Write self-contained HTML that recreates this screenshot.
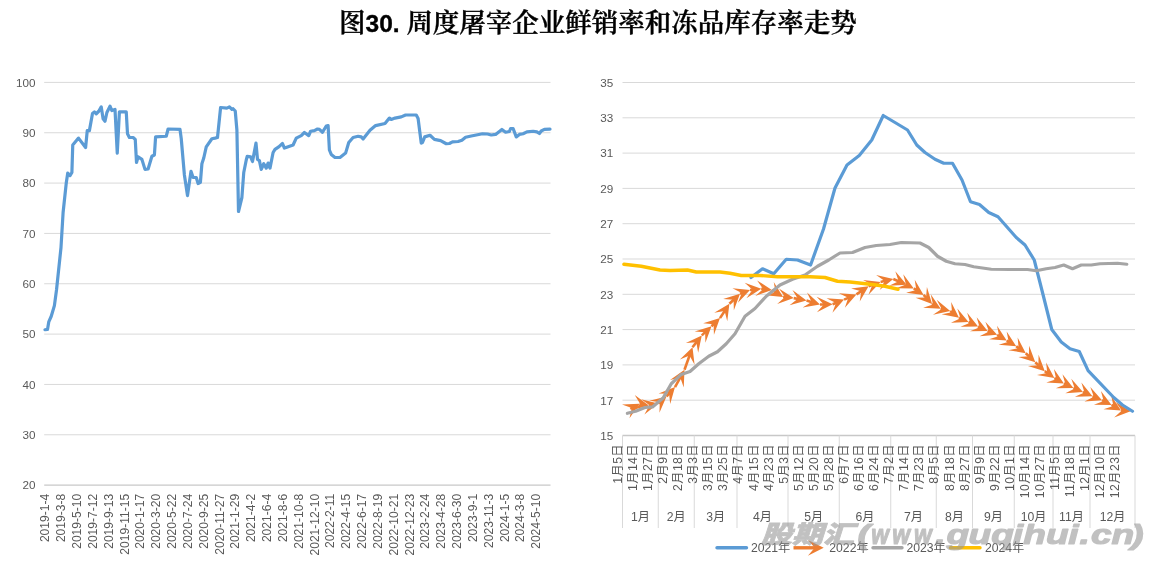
<!DOCTYPE html>
<html lang="zh-CN"><head><meta charset="utf-8"><title>图30. 周度屠宰企业鲜销率和冻品库存率走势</title>
<style>
html,body{margin:0;padding:0;background:#fff;}
body{width:1162px;height:567px;overflow:hidden;position:relative;font-family:"Liberation Sans","Noto Sans CJK SC",sans-serif;}
svg{position:absolute;left:0;top:0;display:block}
.ax{font-family:"Liberation Sans","Noto Sans CJK SC",sans-serif;font-size:11.7px;fill:#595959}
.cj{font-family:"Liberation Sans","Noto Sans CJK SC",sans-serif;font-size:12.2px;fill:#595959}
.dy{letter-spacing:0.45px}
.dt{font-family:"Liberation Sans","Noto Sans CJK SC",sans-serif;font-size:12.1px;fill:#595959}
.title{font-family:"Liberation Sans","Noto Serif CJK SC",serif;font-weight:600;fill:#000;stroke:#000;stroke-width:.35px}
.wm{font-family:"Liberation Sans","Noto Sans CJK SC",sans-serif;font-weight:900;font-style:italic;fill:#9b9b9b;fill-opacity:.62}
</style></head><body>
<svg width="1162" height="567" viewBox="0 0 1162 567">
<rect width="1162" height="567" fill="#fff"/>

<text class="title" x="339" y="31.5" font-size="26.5px"><tspan>图</tspan><tspan font-size="24.5px">30. </tspan><tspan>周度屠宰企业鲜销率和冻品库存率走势</tspan></text>
<line x1="44.2" x2="550.5" y1="82.40" y2="82.40" stroke="#d9d9d9" stroke-width="1"/>
<text class="ax" x="35.6" y="86.70" text-anchor="end">100</text>
<line x1="44.2" x2="550.5" y1="132.74" y2="132.74" stroke="#d9d9d9" stroke-width="1"/>
<text class="ax" x="35.6" y="137.04" text-anchor="end">90</text>
<line x1="44.2" x2="550.5" y1="183.08" y2="183.08" stroke="#d9d9d9" stroke-width="1"/>
<text class="ax" x="35.6" y="187.38" text-anchor="end">80</text>
<line x1="44.2" x2="550.5" y1="233.42" y2="233.42" stroke="#d9d9d9" stroke-width="1"/>
<text class="ax" x="35.6" y="237.72" text-anchor="end">70</text>
<line x1="44.2" x2="550.5" y1="283.76" y2="283.76" stroke="#d9d9d9" stroke-width="1"/>
<text class="ax" x="35.6" y="288.06" text-anchor="end">60</text>
<line x1="44.2" x2="550.5" y1="334.10" y2="334.10" stroke="#d9d9d9" stroke-width="1"/>
<text class="ax" x="35.6" y="338.40" text-anchor="end">50</text>
<line x1="44.2" x2="550.5" y1="384.44" y2="384.44" stroke="#d9d9d9" stroke-width="1"/>
<text class="ax" x="35.6" y="388.74" text-anchor="end">40</text>
<line x1="44.2" x2="550.5" y1="434.78" y2="434.78" stroke="#d9d9d9" stroke-width="1"/>
<text class="ax" x="35.6" y="439.08" text-anchor="end">30</text>
<line x1="44.2" x2="550.5" y1="485.12" y2="485.12" stroke="#c8c8c8" stroke-width="1.4"/>
<text class="ax" x="35.6" y="489.42" text-anchor="end">20</text>
<text class="dt" transform="translate(49.40,493.7) rotate(-90)" text-anchor="end">2019-1-4</text>
<text class="dt" transform="translate(65.23,493.7) rotate(-90)" text-anchor="end">2019-3-8</text>
<text class="dt" transform="translate(81.07,493.7) rotate(-90)" text-anchor="end">2019-5-10</text>
<text class="dt" transform="translate(96.91,493.7) rotate(-90)" text-anchor="end">2019-7-12</text>
<text class="dt" transform="translate(112.74,493.7) rotate(-90)" text-anchor="end">2019-9-13</text>
<text class="dt" transform="translate(128.58,493.7) rotate(-90)" text-anchor="end">2019-11-15</text>
<text class="dt" transform="translate(144.41,493.7) rotate(-90)" text-anchor="end">2020-1-17</text>
<text class="dt" transform="translate(160.24,493.7) rotate(-90)" text-anchor="end">2020-3-20</text>
<text class="dt" transform="translate(176.08,493.7) rotate(-90)" text-anchor="end">2020-5-22</text>
<text class="dt" transform="translate(191.91,493.7) rotate(-90)" text-anchor="end">2020-7-24</text>
<text class="dt" transform="translate(207.75,493.7) rotate(-90)" text-anchor="end">2020-9-25</text>
<text class="dt" transform="translate(223.59,493.7) rotate(-90)" text-anchor="end">2020-11-27</text>
<text class="dt" transform="translate(239.42,493.7) rotate(-90)" text-anchor="end">2021-1-29</text>
<text class="dt" transform="translate(255.26,493.7) rotate(-90)" text-anchor="end">2021-4-2</text>
<text class="dt" transform="translate(271.09,493.7) rotate(-90)" text-anchor="end">2021-6-4</text>
<text class="dt" transform="translate(286.93,493.7) rotate(-90)" text-anchor="end">2021-8-6</text>
<text class="dt" transform="translate(302.76,493.7) rotate(-90)" text-anchor="end">2021-10-8</text>
<text class="dt" transform="translate(318.60,493.7) rotate(-90)" text-anchor="end">2021-12-10</text>
<text class="dt" transform="translate(334.43,493.7) rotate(-90)" text-anchor="end">2022-2-11</text>
<text class="dt" transform="translate(350.27,493.7) rotate(-90)" text-anchor="end">2022-4-15</text>
<text class="dt" transform="translate(366.10,493.7) rotate(-90)" text-anchor="end">2022-6-17</text>
<text class="dt" transform="translate(381.94,493.7) rotate(-90)" text-anchor="end">2022-8-19</text>
<text class="dt" transform="translate(397.77,493.7) rotate(-90)" text-anchor="end">2022-10-21</text>
<text class="dt" transform="translate(413.61,493.7) rotate(-90)" text-anchor="end">2022-12-23</text>
<text class="dt" transform="translate(429.44,493.7) rotate(-90)" text-anchor="end">2023-2-24</text>
<text class="dt" transform="translate(445.28,493.7) rotate(-90)" text-anchor="end">2023-4-28</text>
<text class="dt" transform="translate(461.11,493.7) rotate(-90)" text-anchor="end">2023-6-30</text>
<text class="dt" transform="translate(476.95,493.7) rotate(-90)" text-anchor="end">2023-9-1</text>
<text class="dt" transform="translate(492.78,493.7) rotate(-90)" text-anchor="end">2023-11-3</text>
<text class="dt" transform="translate(508.62,493.7) rotate(-90)" text-anchor="end">2024-1-5</text>
<text class="dt" transform="translate(524.45,493.7) rotate(-90)" text-anchor="end">2024-3-8</text>
<text class="dt" transform="translate(540.29,493.7) rotate(-90)" text-anchor="end">2024-5-10</text>
<polyline fill="none" stroke="#5b9bd5" stroke-width="3.2" stroke-linejoin="round" stroke-linecap="round" points="45.00,329.75 47.50,329.40 48.75,321.90 51.25,316.25 54.40,305.60 56.50,290.00 61.00,247.50 63.10,212.50 66.25,183.10 67.75,173.10 70.00,175.60 71.90,172.50 72.75,145.00 78.50,138.10 85.60,147.50 87.25,130.60 89.40,130.60 92.50,113.50 94.40,111.90 96.25,113.75 98.75,111.25 101.25,106.90 103.10,118.75 105.00,121.25 106.90,112.50 110.00,106.25 111.90,110.60 115.00,109.40 117.25,153.10 119.40,111.90 126.25,111.90 127.50,133.75 129.40,137.50 133.10,137.50 135.25,139.40 136.50,162.50 138.10,156.90 141.90,159.40 145.00,169.40 148.10,169.00 151.90,156.25 154.40,155.00 155.60,136.90 166.25,136.25 168.10,129.00 180.00,129.40 181.25,138.75 183.10,160.00 184.40,175.00 187.50,195.60 191.00,171.25 193.10,177.50 196.25,177.50 198.10,183.50 200.40,182.25 201.90,163.75 203.75,158.00 206.25,146.90 211.90,138.75 215.00,138.10 217.50,137.50 220.60,107.50 226.90,108.10 229.40,106.90 231.90,109.40 233.10,108.75 235.25,111.00 236.90,130.00 237.60,165.90 238.50,211.50 241.90,197.50 243.75,172.50 246.25,160.00 247.25,156.25 250.60,156.90 252.50,161.50 256.00,143.10 257.50,159.40 259.40,160.60 261.25,169.40 263.75,163.75 266.25,168.10 268.10,163.10 270.00,168.10 273.10,152.50 275.00,149.40 278.75,146.90 282.50,143.50 284.40,148.10 287.50,146.90 293.10,145.00 296.25,138.10 301.25,135.60 304.40,132.50 308.75,135.60 310.60,131.25 314.40,130.60 317.50,129.00 319.40,129.40 322.50,132.25 326.25,126.00 328.10,125.60 329.40,150.00 331.25,154.40 335.00,157.50 340.00,157.50 345.60,153.10 348.75,142.50 353.10,137.50 358.10,136.25 361.25,136.90 363.10,139.00 370.00,130.25 375.60,125.60 385.00,123.50 389.40,118.10 391.25,119.40 395.00,118.10 401.25,116.90 405.60,115.00 416.25,115.00 418.10,118.50 421.25,143.10 422.50,142.50 424.75,136.90 430.00,135.25 434.40,139.40 440.60,140.60 446.25,143.75 449.40,143.50 452.50,141.90 458.10,141.50 461.90,140.25 465.60,137.25 471.25,136.00 477.50,134.75 482.50,133.75 487.50,134.00 491.25,135.00 495.60,134.40 501.90,129.40 505.60,132.25 509.40,131.50 510.60,128.50 513.10,128.50 516.25,136.90 519.40,134.40 523.10,133.75 526.90,131.90 533.10,131.25 536.90,131.90 539.40,133.50 541.25,131.00 544.40,129.40 550.00,129.10"/>
<line x1="622.5" x2="1135" y1="82.50" y2="82.50" stroke="#d9d9d9" stroke-width="1"/>
<text class="ax" x="613.2" y="86.80" text-anchor="end">35</text>
<line x1="622.5" x2="1135" y1="117.80" y2="117.80" stroke="#d9d9d9" stroke-width="1"/>
<text class="ax" x="613.2" y="122.10" text-anchor="end">33</text>
<line x1="622.5" x2="1135" y1="153.10" y2="153.10" stroke="#d9d9d9" stroke-width="1"/>
<text class="ax" x="613.2" y="157.40" text-anchor="end">31</text>
<line x1="622.5" x2="1135" y1="188.40" y2="188.40" stroke="#d9d9d9" stroke-width="1"/>
<text class="ax" x="613.2" y="192.70" text-anchor="end">29</text>
<line x1="622.5" x2="1135" y1="223.70" y2="223.70" stroke="#d9d9d9" stroke-width="1"/>
<text class="ax" x="613.2" y="228.00" text-anchor="end">27</text>
<line x1="622.5" x2="1135" y1="259.00" y2="259.00" stroke="#d9d9d9" stroke-width="1"/>
<text class="ax" x="613.2" y="263.30" text-anchor="end">25</text>
<line x1="622.5" x2="1135" y1="294.30" y2="294.30" stroke="#d9d9d9" stroke-width="1"/>
<text class="ax" x="613.2" y="298.60" text-anchor="end">23</text>
<line x1="622.5" x2="1135" y1="329.60" y2="329.60" stroke="#d9d9d9" stroke-width="1"/>
<text class="ax" x="613.2" y="333.90" text-anchor="end">21</text>
<line x1="622.5" x2="1135" y1="364.90" y2="364.90" stroke="#d9d9d9" stroke-width="1"/>
<text class="ax" x="613.2" y="369.20" text-anchor="end">19</text>
<line x1="622.5" x2="1135" y1="400.20" y2="400.20" stroke="#d9d9d9" stroke-width="1"/>
<text class="ax" x="613.2" y="404.50" text-anchor="end">17</text>
<line x1="622.5" x2="1135" y1="435.50" y2="435.50" stroke="#c8c8c8" stroke-width="1.4"/>
<text class="ax" x="613.2" y="439.80" text-anchor="end">15</text>
<line x1="622.5" x2="622.5" y1="435.5" y2="528" stroke="#d9d9d9" stroke-width="1"/>
<line x1="658.25" x2="658.25" y1="435.5" y2="528" stroke="#d9d9d9" stroke-width="1"/>
<line x1="694.25" x2="694.25" y1="435.5" y2="528" stroke="#d9d9d9" stroke-width="1"/>
<line x1="737" x2="737" y1="435.5" y2="528" stroke="#d9d9d9" stroke-width="1"/>
<line x1="788" x2="788" y1="435.5" y2="528" stroke="#d9d9d9" stroke-width="1"/>
<line x1="839.25" x2="839.25" y1="435.5" y2="528" stroke="#d9d9d9" stroke-width="1"/>
<line x1="890.75" x2="890.75" y1="435.5" y2="528" stroke="#d9d9d9" stroke-width="1"/>
<line x1="936.25" x2="936.25" y1="435.5" y2="528" stroke="#d9d9d9" stroke-width="1"/>
<line x1="972.5" x2="972.5" y1="435.5" y2="528" stroke="#d9d9d9" stroke-width="1"/>
<line x1="1014.25" x2="1014.25" y1="435.5" y2="528" stroke="#d9d9d9" stroke-width="1"/>
<line x1="1053" x2="1053" y1="435.5" y2="528" stroke="#d9d9d9" stroke-width="1"/>
<line x1="1090" x2="1090" y1="435.5" y2="528" stroke="#d9d9d9" stroke-width="1"/>
<line x1="1135" x2="1135" y1="435.5" y2="528" stroke="#d9d9d9" stroke-width="1"/>
<text class="cj dy" transform="translate(621.80,444.0) rotate(-90)" text-anchor="end">1月5日</text>
<text class="cj dy" transform="translate(636.88,444.0) rotate(-90)" text-anchor="end">1月14日</text>
<text class="cj dy" transform="translate(651.96,444.0) rotate(-90)" text-anchor="end">1月27日</text>
<text class="cj dy" transform="translate(667.04,444.0) rotate(-90)" text-anchor="end">2月9日</text>
<text class="cj dy" transform="translate(682.12,444.0) rotate(-90)" text-anchor="end">2月18日</text>
<text class="cj dy" transform="translate(697.20,444.0) rotate(-90)" text-anchor="end">3月3日</text>
<text class="cj dy" transform="translate(712.28,444.0) rotate(-90)" text-anchor="end">3月15日</text>
<text class="cj dy" transform="translate(727.36,444.0) rotate(-90)" text-anchor="end">3月25日</text>
<text class="cj dy" transform="translate(742.44,444.0) rotate(-90)" text-anchor="end">4月7日</text>
<text class="cj dy" transform="translate(757.52,444.0) rotate(-90)" text-anchor="end">4月15日</text>
<text class="cj dy" transform="translate(772.60,444.0) rotate(-90)" text-anchor="end">4月23日</text>
<text class="cj dy" transform="translate(787.68,444.0) rotate(-90)" text-anchor="end">5月3日</text>
<text class="cj dy" transform="translate(802.76,444.0) rotate(-90)" text-anchor="end">5月12日</text>
<text class="cj dy" transform="translate(817.84,444.0) rotate(-90)" text-anchor="end">5月20日</text>
<text class="cj dy" transform="translate(832.92,444.0) rotate(-90)" text-anchor="end">5月28日</text>
<text class="cj dy" transform="translate(848.00,444.0) rotate(-90)" text-anchor="end">6月7日</text>
<text class="cj dy" transform="translate(863.08,444.0) rotate(-90)" text-anchor="end">6月16日</text>
<text class="cj dy" transform="translate(878.16,444.0) rotate(-90)" text-anchor="end">6月24日</text>
<text class="cj dy" transform="translate(893.24,444.0) rotate(-90)" text-anchor="end">7月2日</text>
<text class="cj dy" transform="translate(908.32,444.0) rotate(-90)" text-anchor="end">7月14日</text>
<text class="cj dy" transform="translate(923.40,444.0) rotate(-90)" text-anchor="end">7月23日</text>
<text class="cj dy" transform="translate(938.48,444.0) rotate(-90)" text-anchor="end">8月5日</text>
<text class="cj dy" transform="translate(953.56,444.0) rotate(-90)" text-anchor="end">8月18日</text>
<text class="cj dy" transform="translate(968.64,444.0) rotate(-90)" text-anchor="end">8月27日</text>
<text class="cj dy" transform="translate(983.72,444.0) rotate(-90)" text-anchor="end">9月9日</text>
<text class="cj dy" transform="translate(998.80,444.0) rotate(-90)" text-anchor="end">9月22日</text>
<text class="cj dy" transform="translate(1013.88,444.0) rotate(-90)" text-anchor="end">10月1日</text>
<text class="cj dy" transform="translate(1028.96,444.0) rotate(-90)" text-anchor="end">10月14日</text>
<text class="cj dy" transform="translate(1044.04,444.0) rotate(-90)" text-anchor="end">10月27日</text>
<text class="cj dy" transform="translate(1059.12,444.0) rotate(-90)" text-anchor="end">11月5日</text>
<text class="cj dy" transform="translate(1074.20,444.0) rotate(-90)" text-anchor="end">11月18日</text>
<text class="cj dy" transform="translate(1089.28,444.0) rotate(-90)" text-anchor="end">12月1日</text>
<text class="cj dy" transform="translate(1104.36,444.0) rotate(-90)" text-anchor="end">12月10日</text>
<text class="cj dy" transform="translate(1119.44,444.0) rotate(-90)" text-anchor="end">12月23日</text>
<text class="cj" x="640.38" y="521.3" text-anchor="middle">1月</text>
<text class="cj" x="676.25" y="521.3" text-anchor="middle">2月</text>
<text class="cj" x="715.62" y="521.3" text-anchor="middle">3月</text>
<text class="cj" x="762.50" y="521.3" text-anchor="middle">4月</text>
<text class="cj" x="813.62" y="521.3" text-anchor="middle">5月</text>
<text class="cj" x="865.00" y="521.3" text-anchor="middle">6月</text>
<text class="cj" x="913.50" y="521.3" text-anchor="middle">7月</text>
<text class="cj" x="954.38" y="521.3" text-anchor="middle">8月</text>
<text class="cj" x="993.38" y="521.3" text-anchor="middle">9月</text>
<text class="cj" x="1033.62" y="521.3" text-anchor="middle">10月</text>
<text class="cj" x="1071.50" y="521.3" text-anchor="middle">11月</text>
<text class="cj" x="1112.50" y="521.3" text-anchor="middle">12月</text>
<line x1="630.30" y1="408.90" x2="632.32" y2="407.79" stroke="#ed7d31" stroke-width="2.6"/>
<polygon fill="#ed7d31" points="639.60,403.80 629.50,418.24 631.88,408.03 622.00,404.56"/>
<line x1="639.60" y1="403.80" x2="640.74" y2="404.01" stroke="#ed7d31" stroke-width="2.6"/>
<polygon fill="#ed7d31" points="648.90,405.50 631.95,410.33 640.24,403.92 634.76,394.99"/>
<line x1="648.90" y1="405.50" x2="650.09" y2="405.25" stroke="#ed7d31" stroke-width="2.6"/>
<polygon fill="#ed7d31" points="658.20,403.50 644.39,414.45 649.60,405.35 641.11,399.20"/>
<line x1="658.20" y1="403.50" x2="660.16" y2="401.85" stroke="#ed7d31" stroke-width="2.6"/>
<polygon fill="#ed7d31" points="666.50,396.50 659.45,412.65 659.77,402.17 649.39,400.72"/>
<line x1="666.50" y1="396.50" x2="669.43" y2="393.26" stroke="#ed7d31" stroke-width="2.6"/>
<polygon fill="#ed7d31" points="675.00,387.10 670.19,404.05 669.10,393.63 658.62,393.59"/>
<line x1="675.00" y1="387.10" x2="680.50" y2="377.08" stroke="#ed7d31" stroke-width="2.6"/>
<polygon fill="#ed7d31" points="684.50,369.80 683.73,387.40 680.26,377.51 670.06,379.89"/>
<line x1="684.50" y1="369.80" x2="689.73" y2="355.02" stroke="#ed7d31" stroke-width="2.6"/>
<polygon fill="#ed7d31" points="692.50,347.20 694.58,364.70 689.56,355.50 679.87,359.49"/>
<line x1="692.50" y1="347.20" x2="696.66" y2="341.92" stroke="#ed7d31" stroke-width="2.6"/>
<polygon fill="#ed7d31" points="701.80,335.40 698.15,352.64 696.35,342.31 685.89,342.98"/>
<line x1="701.80" y1="335.40" x2="705.48" y2="331.91" stroke="#ed7d31" stroke-width="2.6"/>
<polygon fill="#ed7d31" points="711.50,326.20 705.40,342.73 705.12,332.26 694.67,331.41"/>
<line x1="711.50" y1="326.20" x2="713.99" y2="323.83" stroke="#ed7d31" stroke-width="2.6"/>
<polygon fill="#ed7d31" points="720.00,318.10 713.94,334.65 713.63,324.17 703.18,323.35"/>
<line x1="720.00" y1="318.10" x2="724.85" y2="310.69" stroke="#ed7d31" stroke-width="2.6"/>
<polygon fill="#ed7d31" points="729.40,303.75 727.27,321.24 724.58,311.11 714.22,312.69"/>
<line x1="729.40" y1="303.75" x2="733.96" y2="299.45" stroke="#ed7d31" stroke-width="2.6"/>
<polygon fill="#ed7d31" points="740.00,293.75 733.86,310.27 733.60,299.79 723.15,298.92"/>
<line x1="740.00" y1="293.75" x2="742.23" y2="292.91" stroke="#ed7d31" stroke-width="2.6"/>
<polygon fill="#ed7d31" points="750.00,290.00 737.94,302.85 741.76,293.09 732.47,288.24"/>
<line x1="750.00" y1="290.00" x2="753.00" y2="289.67" stroke="#ed7d31" stroke-width="2.6"/>
<polygon fill="#ed7d31" points="761.25,288.75 746.41,298.25 752.50,289.72 744.69,282.74"/>
<line x1="761.25" y1="288.75" x2="763.66" y2="289.03" stroke="#ed7d31" stroke-width="2.6"/>
<polygon fill="#ed7d31" points="771.90,290.00 755.30,295.91 763.16,288.97 757.12,280.41"/>
<line x1="771.90" y1="290.00" x2="776.03" y2="292.55" stroke="#ed7d31" stroke-width="2.6"/>
<polygon fill="#ed7d31" points="783.10,296.90 765.56,295.25 775.61,292.28 773.74,281.97"/>
<line x1="783.10" y1="296.90" x2="785.50" y2="297.17" stroke="#ed7d31" stroke-width="2.6"/>
<polygon fill="#ed7d31" points="793.75,298.10 777.18,304.08 785.01,297.11 778.92,288.58"/>
<line x1="793.75" y1="298.10" x2="798.34" y2="298.96" stroke="#ed7d31" stroke-width="2.6"/>
<polygon fill="#ed7d31" points="806.50,300.50 789.53,305.24 797.85,298.87 792.42,289.91"/>
<line x1="806.50" y1="300.50" x2="812.04" y2="302.14" stroke="#ed7d31" stroke-width="2.6"/>
<polygon fill="#ed7d31" points="820.00,304.50 802.64,307.49 811.56,302.00 807.07,292.53"/>
<line x1="820.00" y1="304.50" x2="824.30" y2="304.43" stroke="#ed7d31" stroke-width="2.6"/>
<polygon fill="#ed7d31" points="832.60,304.30 816.93,312.35 823.80,304.44 816.68,296.75"/>
<line x1="832.60" y1="304.30" x2="836.42" y2="302.74" stroke="#ed7d31" stroke-width="2.6"/>
<polygon fill="#ed7d31" points="844.10,299.60 832.43,312.80 835.95,302.93 826.52,298.36"/>
<line x1="844.10" y1="299.60" x2="848.76" y2="297.63" stroke="#ed7d31" stroke-width="2.6"/>
<polygon fill="#ed7d31" points="856.40,294.40 844.88,307.74 848.29,297.83 838.81,293.37"/>
<line x1="856.40" y1="294.40" x2="861.69" y2="290.89" stroke="#ed7d31" stroke-width="2.6"/>
<polygon fill="#ed7d31" points="868.60,286.30 859.75,301.54 861.27,291.17 851.12,288.54"/>
<line x1="868.60" y1="286.30" x2="872.81" y2="284.76" stroke="#ed7d31" stroke-width="2.6"/>
<polygon fill="#ed7d31" points="880.60,281.90 868.45,294.66 872.34,284.93 863.08,280.02"/>
<line x1="880.60" y1="281.90" x2="885.21" y2="280.85" stroke="#ed7d31" stroke-width="2.6"/>
<polygon fill="#ed7d31" points="893.30,279.00 879.63,290.12 884.72,280.96 876.16,274.91"/>
<line x1="893.30" y1="279.00" x2="899.08" y2="281.50" stroke="#ed7d31" stroke-width="2.6"/>
<polygon fill="#ed7d31" points="906.70,284.80 889.10,285.68 898.62,281.30 895.30,271.37"/>
<line x1="906.70" y1="284.80" x2="906.40" y2="284.65" stroke="#ed7d31" stroke-width="2.6"/>
<polygon fill="#ed7d31" points="913.80,288.40 896.18,288.21 905.95,284.42 903.24,274.30"/>
<line x1="913.80" y1="288.40" x2="916.68" y2="290.31" stroke="#ed7d31" stroke-width="2.6"/>
<polygon fill="#ed7d31" points="923.60,294.90 906.12,292.67 916.27,290.04 914.74,279.67"/>
<line x1="923.60" y1="294.90" x2="926.40" y2="297.87" stroke="#ed7d31" stroke-width="2.6"/>
<polygon fill="#ed7d31" points="932.10,303.90 915.58,297.77 926.06,297.50 926.92,287.06"/>
<line x1="932.10" y1="303.90" x2="933.45" y2="304.65" stroke="#ed7d31" stroke-width="2.6"/>
<polygon fill="#ed7d31" points="940.70,308.70 923.10,307.81 933.02,304.41 930.70,294.19"/>
<line x1="940.70" y1="308.70" x2="942.13" y2="309.05" stroke="#ed7d31" stroke-width="2.6"/>
<polygon fill="#ed7d31" points="950.20,311.00 933.01,314.86 941.65,308.93 936.68,299.70"/>
<line x1="950.20" y1="311.00" x2="952.40" y2="312.67" stroke="#ed7d31" stroke-width="2.6"/>
<polygon fill="#ed7d31" points="959.00,317.70 941.70,314.33 952.00,312.37 951.15,301.92"/>
<line x1="959.00" y1="317.70" x2="960.96" y2="318.58" stroke="#ed7d31" stroke-width="2.6"/>
<polygon fill="#ed7d31" points="968.53,321.97 950.93,322.63 960.50,318.37 957.30,308.39"/>
<line x1="968.53" y1="321.97" x2="970.58" y2="322.95" stroke="#ed7d31" stroke-width="2.6"/>
<polygon fill="#ed7d31" points="978.07,326.53 960.45,326.75 970.13,322.74 967.18,312.68"/>
<line x1="978.07" y1="326.53" x2="980.10" y2="327.49" stroke="#ed7d31" stroke-width="2.6"/>
<polygon fill="#ed7d31" points="987.60,331.04 969.98,331.34 979.64,327.28 976.65,317.24"/>
<line x1="987.60" y1="331.04" x2="989.43" y2="331.77" stroke="#ed7d31" stroke-width="2.6"/>
<polygon fill="#ed7d31" points="997.13,334.85 979.57,336.23 988.96,331.59 985.36,321.74"/>
<line x1="997.13" y1="334.85" x2="999.53" y2="336.27" stroke="#ed7d31" stroke-width="2.6"/>
<polygon fill="#ed7d31" points="1006.67,340.50 989.10,339.16 999.10,336.02 997.05,325.74"/>
<line x1="1006.67" y1="340.50" x2="1009.08" y2="341.95" stroke="#ed7d31" stroke-width="2.6"/>
<polygon fill="#ed7d31" points="1016.20,346.22 998.64,344.78 1008.65,341.69 1006.66,331.40"/>
<line x1="1016.20" y1="346.22" x2="1019.05" y2="348.31" stroke="#ed7d31" stroke-width="2.6"/>
<polygon fill="#ed7d31" points="1025.73,353.23 1008.38,350.15 1018.64,348.02 1017.63,337.59"/>
<line x1="1025.73" y1="353.23" x2="1029.23" y2="356.52" stroke="#ed7d31" stroke-width="2.6"/>
<polygon fill="#ed7d31" points="1035.27,362.22 1018.42,357.06 1028.86,356.18 1029.12,345.70"/>
<line x1="1035.27" y1="362.22" x2="1038.74" y2="365.47" stroke="#ed7d31" stroke-width="2.6"/>
<polygon fill="#ed7d31" points="1044.80,371.14 1027.94,366.04 1038.38,365.13 1038.60,354.65"/>
<line x1="1044.80" y1="371.14" x2="1047.62" y2="373.20" stroke="#ed7d31" stroke-width="2.6"/>
<polygon fill="#ed7d31" points="1054.33,378.08 1036.97,375.09 1047.22,372.90 1046.14,362.48"/>
<line x1="1054.33" y1="378.08" x2="1056.64" y2="379.38" stroke="#ed7d31" stroke-width="2.6"/>
<polygon fill="#ed7d31" points="1063.87,383.47 1046.27,382.48 1056.21,379.14 1053.96,368.90"/>
<line x1="1063.87" y1="383.47" x2="1065.91" y2="384.44" stroke="#ed7d31" stroke-width="2.6"/>
<polygon fill="#ed7d31" points="1073.40,388.01 1055.78,388.26 1065.45,384.23 1062.48,374.18"/>
<line x1="1073.40" y1="388.01" x2="1075.25" y2="388.77" stroke="#ed7d31" stroke-width="2.6"/>
<polygon fill="#ed7d31" points="1082.93,391.91 1065.36,393.14 1074.79,388.58 1071.27,378.71"/>
<line x1="1082.93" y1="391.91" x2="1084.92" y2="392.83" stroke="#ed7d31" stroke-width="2.6"/>
<polygon fill="#ed7d31" points="1092.47,396.30 1074.85,396.79 1084.47,392.62 1081.37,382.61"/>
<line x1="1092.47" y1="396.30" x2="1094.31" y2="397.04" stroke="#ed7d31" stroke-width="2.6"/>
<polygon fill="#ed7d31" points="1102.00,400.16 1084.43,401.45 1093.85,396.86 1090.29,387.00"/>
<line x1="1102.00" y1="400.16" x2="1104.12" y2="401.23" stroke="#ed7d31" stroke-width="2.6"/>
<polygon fill="#ed7d31" points="1111.53,404.96 1093.91,404.83 1103.67,401.01 1100.93,390.89"/>
<line x1="1111.53" y1="404.96" x2="1113.86" y2="406.30" stroke="#ed7d31" stroke-width="2.6"/>
<polygon fill="#ed7d31" points="1121.07,410.42 1103.48,409.34 1113.43,406.05 1111.23,395.80"/>
<line x1="1121.07" y1="410.42" x2="1122.33" y2="410.54" stroke="#ed7d31" stroke-width="2.6"/>
<polygon fill="#ed7d31" points="1130.60,411.30 1114.15,417.62 1121.84,410.49 1115.58,402.09"/>
<polyline fill="none" stroke="#5b9bd5" stroke-width="3.2" stroke-linejoin="round" stroke-linecap="round" points="751.00,277.50 762.50,268.75 773.75,273.75 786.25,259.25 797.50,260.00 810.60,265.00 823.50,229.00 835.00,188.00 847.00,165.00 859.25,155.50 871.75,140.00 883.25,115.50 895.00,122.50 907.50,130.00 916.75,145.00 925.00,152.50 935.00,159.25 943.75,163.25 952.50,163.25 962.00,180.00 970.50,201.75 979.50,204.50 988.75,212.50 998.00,216.75 1007.00,227.00 1016.25,237.50 1025.00,245.00 1034.25,260.00 1043.00,294.50 1051.75,329.50 1061.25,342.00 1070.00,348.75 1079.25,351.50 1088.10,370.60 1113.75,397.50 1122.50,405.00 1132.50,411.25"/>
<polyline fill="none" stroke="#a5a5a5" stroke-width="3.2" stroke-linejoin="round" stroke-linecap="round" points="627.40,413.30 635.60,411.25 645.00,407.50 652.50,406.90 663.10,398.10 671.25,383.75 681.25,374.40 690.00,371.50 698.75,363.75 708.75,356.25 717.50,351.75 726.25,343.75 735.00,333.75 745.00,316.25 755.00,308.50 766.25,296.25 780.00,285.00 792.50,279.25 805.00,275.00 817.50,266.25 828.75,260.00 840.00,253.00 852.50,252.50 865.00,247.50 876.25,245.50 890.00,244.50 901.25,242.50 920.00,243.00 928.75,247.50 937.50,256.25 946.25,261.25 955.00,263.75 965.00,264.50 973.75,266.75 982.50,268.00 991.25,269.25 1010.00,269.50 1027.50,269.50 1036.25,270.75 1046.25,268.75 1055.00,267.50 1063.75,265.00 1072.50,268.75 1081.25,265.00 1091.25,265.00 1100.00,263.75 1117.50,263.25 1126.80,264.25"/>
<polyline fill="none" stroke="#ffc000" stroke-width="3.4" stroke-linejoin="round" stroke-linecap="round" points="623.90,264.25 641.25,266.25 660.00,270.00 670.00,270.50 687.50,270.00 696.25,272.00 720.00,272.00 730.00,273.25 741.25,275.50 760.00,275.50 777.50,276.75 810.00,276.75 825.00,277.50 837.50,281.25 850.00,282.00 872.50,284.50 885.00,286.25 898.00,289.25"/>
<line x1="717" x2="746.5" y1="547.8" y2="547.8" stroke="#5b9bd5" stroke-width="3.4" stroke-linecap="round"/>
<text class="cj" x="751" y="552.4">2021年</text>
<line x1="793.5" x2="815" y1="547.8" y2="547.8" stroke="#ed7d31" stroke-width="3.4"/>
<polygon fill="#ed7d31" points="823.7,547.8 807.9000000000001,539.9 814.7,547.8 807.9000000000001,555.6999999999999"/>
<text class="cj" x="829.3" y="552.4">2022年</text>
<line x1="873" x2="902" y1="547.8" y2="547.8" stroke="#a5a5a5" stroke-width="3.4" stroke-linecap="round"/>
<text class="cj" x="906.5" y="552.4">2023年</text>
<line x1="950.5" x2="980" y1="547.8" y2="547.8" stroke="#ffc000" stroke-width="3.4" stroke-linecap="round"/>
<text class="cj" x="985" y="552.4">2024年</text>
<g opacity=".6" fill="#989898" stroke="#989898" stroke-width="0.7" stroke-linejoin="round" font-weight="900" font-style="italic">
<text x="761" y="542.6" font-family="'Liberation Sans','Noto Sans CJK SC',sans-serif" font-size="24.5px" textLength="93" lengthAdjust="spacingAndGlyphs">股期汇</text>
<text transform="scale(1.3,1)" x="659.72" y="544.2" font-family="'Liberation Sans','Noto Sans CJK SC',sans-serif" font-size="28.5px" font-weight="700" stroke-width="1.2">(</text>
<text transform="scale(0.8,1)" x="1088.91 1115.41 1142.54" y="544.2" font-family="'Liberation Sans','Noto Sans CJK SC',sans-serif" font-size="28.5px" font-weight="700" stroke-width="1.2">www</text>
<text transform="scale(1.3,1)" x="719.42 728.14 744.95 762.45 779.12 787.06 804.68 821.81 830.35 839.15 854.91 870.18" y="544.2" font-family="'Liberation Sans','Noto Sans CJK SC',sans-serif" font-size="28.5px" font-weight="700" stroke-width="1.2">.guqihui.cn)</text>
</g>
</svg></body></html>
